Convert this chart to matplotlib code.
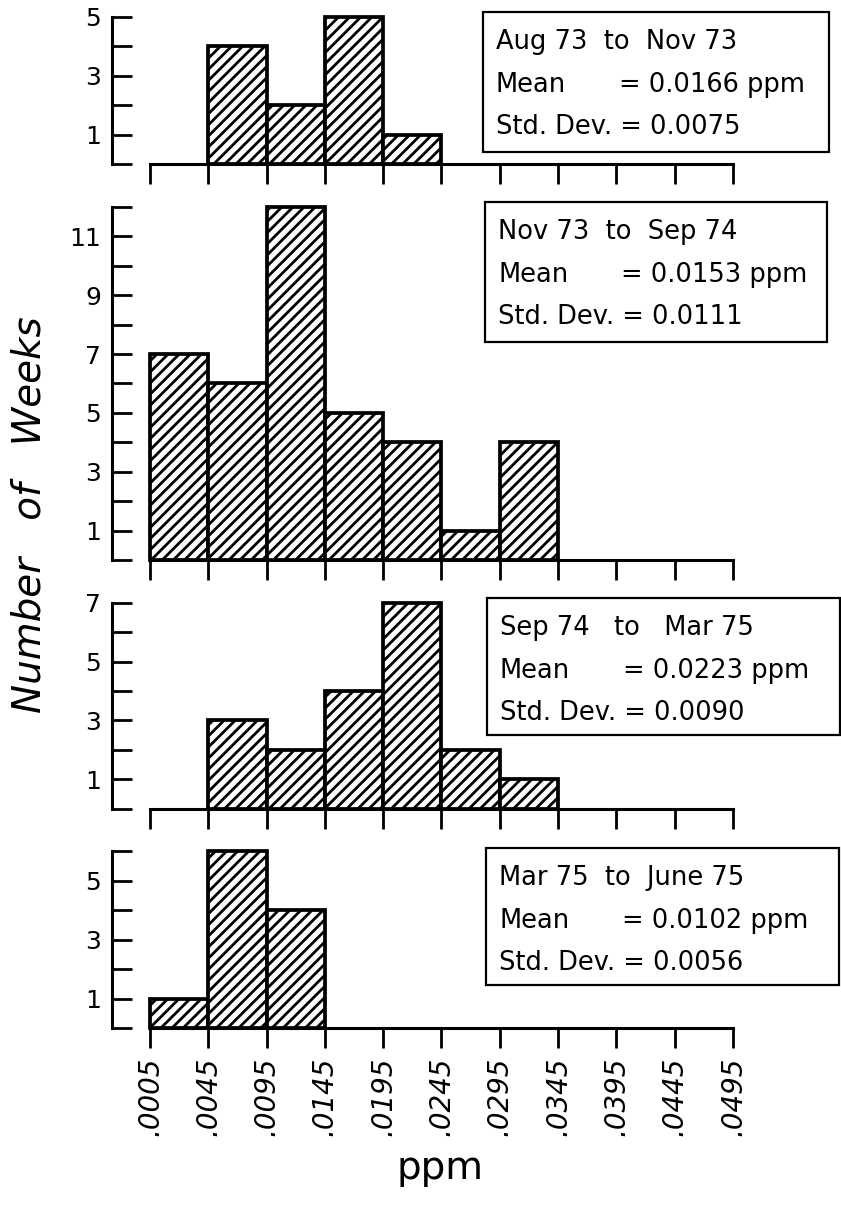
import matplotlib
matplotlib.use("Agg")
import matplotlib.pyplot as plt
from matplotlib.patches import Rectangle
from matplotlib.ticker import MultipleLocator, FixedLocator

# bin edges (ppm) and weekly counts for each period
bin_labels = ['.0005', '.0045', '.0095', '.0145', '.0195', '.0245',
              '.0295', '.0345', '.0395', '.0445', '.0495']
counts_aug73 = [0, 4, 2, 5, 1, 0, 0, 0, 0, 0]
counts_nov73 = [7, 6, 12, 5, 4, 1, 4, 0, 0, 0]
counts_sep74 = [0, 3, 2, 4, 7, 2, 1, 0, 0, 0]
counts_mar75 = [1, 6, 4, 0, 0, 0, 0, 0, 0, 0]
y_tops = [5, 12, 7, 6]

periods = ['Aug 73  to  Nov 73', 'Nov 73  to  Sep 74',
           'Sep 74   to   Mar 75', 'Mar 75  to  June 75']
means = ['0.0166', '0.0153', '0.0223', '0.0102']
stds = ['0.0075', '0.0111', '0.0090', '0.0056']

plt.rcParams['hatch.linewidth'] = 2.0
plt.rcParams['font.family'] = ['DejaVu Sans']

W, H = 841, 1211
fig = plt.figure(figsize=(W / 100, H / 100), dpi=100)
gs = fig.add_gridspec(4, 1, height_ratios=y_tops, hspace=0.19,
                      left=112 / W, right=733 / W,
                      top=1 - 17 / H, bottom=1 - 1028 / H)

all_counts = [counts_aug73, counts_nov73, counts_sep74, counts_mar75]
# pixel boxes (left, top, right, bottom) for the info panels
boxes = [(483, 12, 829, 152), (485, 202, 827, 342),
         (487, 598, 840, 735), (486, 848, 839, 985)]


def px(x, y):
    return x / W, 1 - y / H


for i, counts in enumerate(all_counts):
    ax = fig.add_subplot(gs[i])
    xs = [k for k, c in enumerate(counts) if c > 0]
    hs = [c for c in counts if c > 0]
    bars = ax.bar(xs, hs, width=1, align='edge', color='white',
                  edgecolor='black', linewidth=2.7, hatch='///')
    for b in bars:
        b.set_clip_on(False)

    ax.set_xlim(-0.65, 10)
    ax.set_ylim(0, y_tops[i])
    for s in ['top', 'right']:
        ax.spines[s].set_visible(False)
    ax.spines['left'].set_linewidth(2.2)
    ax.spines['bottom'].set_linewidth(2.2)
    ax.spines['bottom'].set_bounds(0, 10)

    ax.yaxis.set_major_locator(FixedLocator(list(range(1, y_tops[i] + 1, 2))))
    ax.yaxis.set_minor_locator(MultipleLocator(1))
    ax.tick_params(axis='y', which='both', direction='in', length=14.5,
                   width=2.0, labelsize=18, pad=8)
    ax.set_xticks(range(11))
    ax.tick_params(axis='x', direction='out', length=14.5, width=2.0)
    if i == 3:
        ax.set_xticklabels(bin_labels, rotation=90, fontsize=20,
                           fontstyle='italic')
        ax.tick_params(axis='x', pad=6)
    else:
        ax.set_xticklabels([])

    l, t, r, b = boxes[i]
    x0, y0 = px(l, b)
    x1, y1 = px(r, t)
    fig.add_artist(Rectangle((x0, y0), x1 - x0, y1 - y0, fill=False,
                             edgecolor='black', linewidth=1.6,
                             transform=fig.transFigure))
    fs = 18.5
    fig.text(*px(l + 13, t + 30), periods[i], fontsize=fs, va='center')
    fig.text(*px(l + 13, t + 73), 'Mean', fontsize=fs, va='center')
    fig.text(*px(l + 136, t + 73), '= ' + means[i] + ' ppm', fontsize=fs,
             va='center')
    fig.text(*px(l + 13, t + 115), 'Std. Dev. = ' + stds[i], fontsize=fs,
             va='center')

fig.text(*px(30, 515), 'Number   of   Weeks', rotation=90, fontsize=28,
         fontstyle='italic', ha='center', va='center')
fig.text(*px(440, 1168), 'ppm', fontsize=28, ha='center', va='center')

fig.savefig('out.png', dpi=100)
